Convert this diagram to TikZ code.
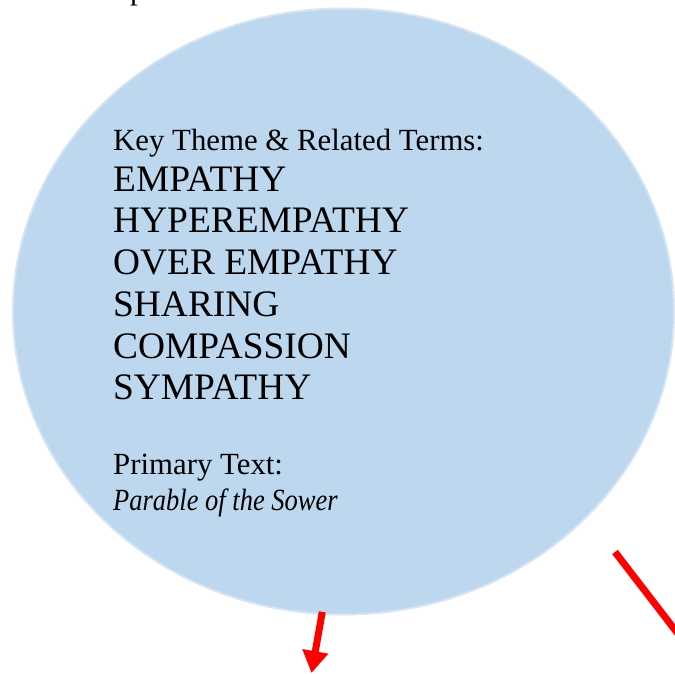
\documentclass[tikz,border=0pt]{standalone}
\usepackage{fontspec}
\setmainfont{Liberation Serif}
\newfontfamily\itfam[FakeStretch=0.86]{Liberation Serif Italic}
\usetikzlibrary{shapes.geometric,arrows.meta}
\definecolor{bubblefill}{RGB}{189,215,238}
\definecolor{bubbleedge}{RGB}{214,228,244}
\definecolor{arrowred}{RGB}{255,0,0}
\tikzset{
  smalltext/.style={anchor=base west, inner sep=0pt, font=\fontsize{30.8}{34}\selectfont},
  bigtext/.style={anchor=base west, inner sep=0pt, font=\fontsize{37.4}{40}\selectfont},
  redarrow/.style={draw=arrowred, line width=7pt, -{Triangle[width=25pt,length=22pt]}},
  redline/.style={draw=arrowred, line width=7pt}
}
\begin{document}
\begin{tikzpicture}[x=1pt,y=-1pt]
\useasboundingbox (0,0) rectangle (675,674);
\clip (0,0) rectangle (675,674);
\node[smalltext] (ptop) at (130,-0.5) {p};
\node[ellipse, draw=bubbleedge, fill=bubblefill, line width=2pt,
      minimum width=661pt, minimum height=606pt, inner sep=0pt] (ell) at (343.5,311.5) {};
\node[smalltext] (key) at (113,150) {Key Theme \& Related Terms:};
\node[bigtext] (t1) at (113,191) {EMPATHY};
\node[bigtext] (t2) at (113,232) {HYPEREMPATHY};
\node[bigtext] (t3) at (113,274) {OVER EMPATHY};
\node[bigtext] (t4) at (113,316) {SHARING};
\node[bigtext] (t5) at (113,358) {COMPASSION};
\node[bigtext] (t6) at (113,399) {SYMPATHY};
\node[smalltext] (prim) at (113,474) {Primary Text:};
\node[smalltext, font={\itfam\fontsize{30.8}{34}\selectfont}] (parable) at (113,510) {Parable of the Sower};
\coordinate (arrowstart) at ([yshift=3pt]ell.-94.3);
\coordinate (arrowend) at (311.5,673);
\draw[redarrow] (arrowstart) -- (arrowend);
\coordinate (lstart) at (615,552);
\coordinate (lend) at (692,652);
\draw[redline] (lstart) -- (lend);
\end{tikzpicture}
\end{document}
